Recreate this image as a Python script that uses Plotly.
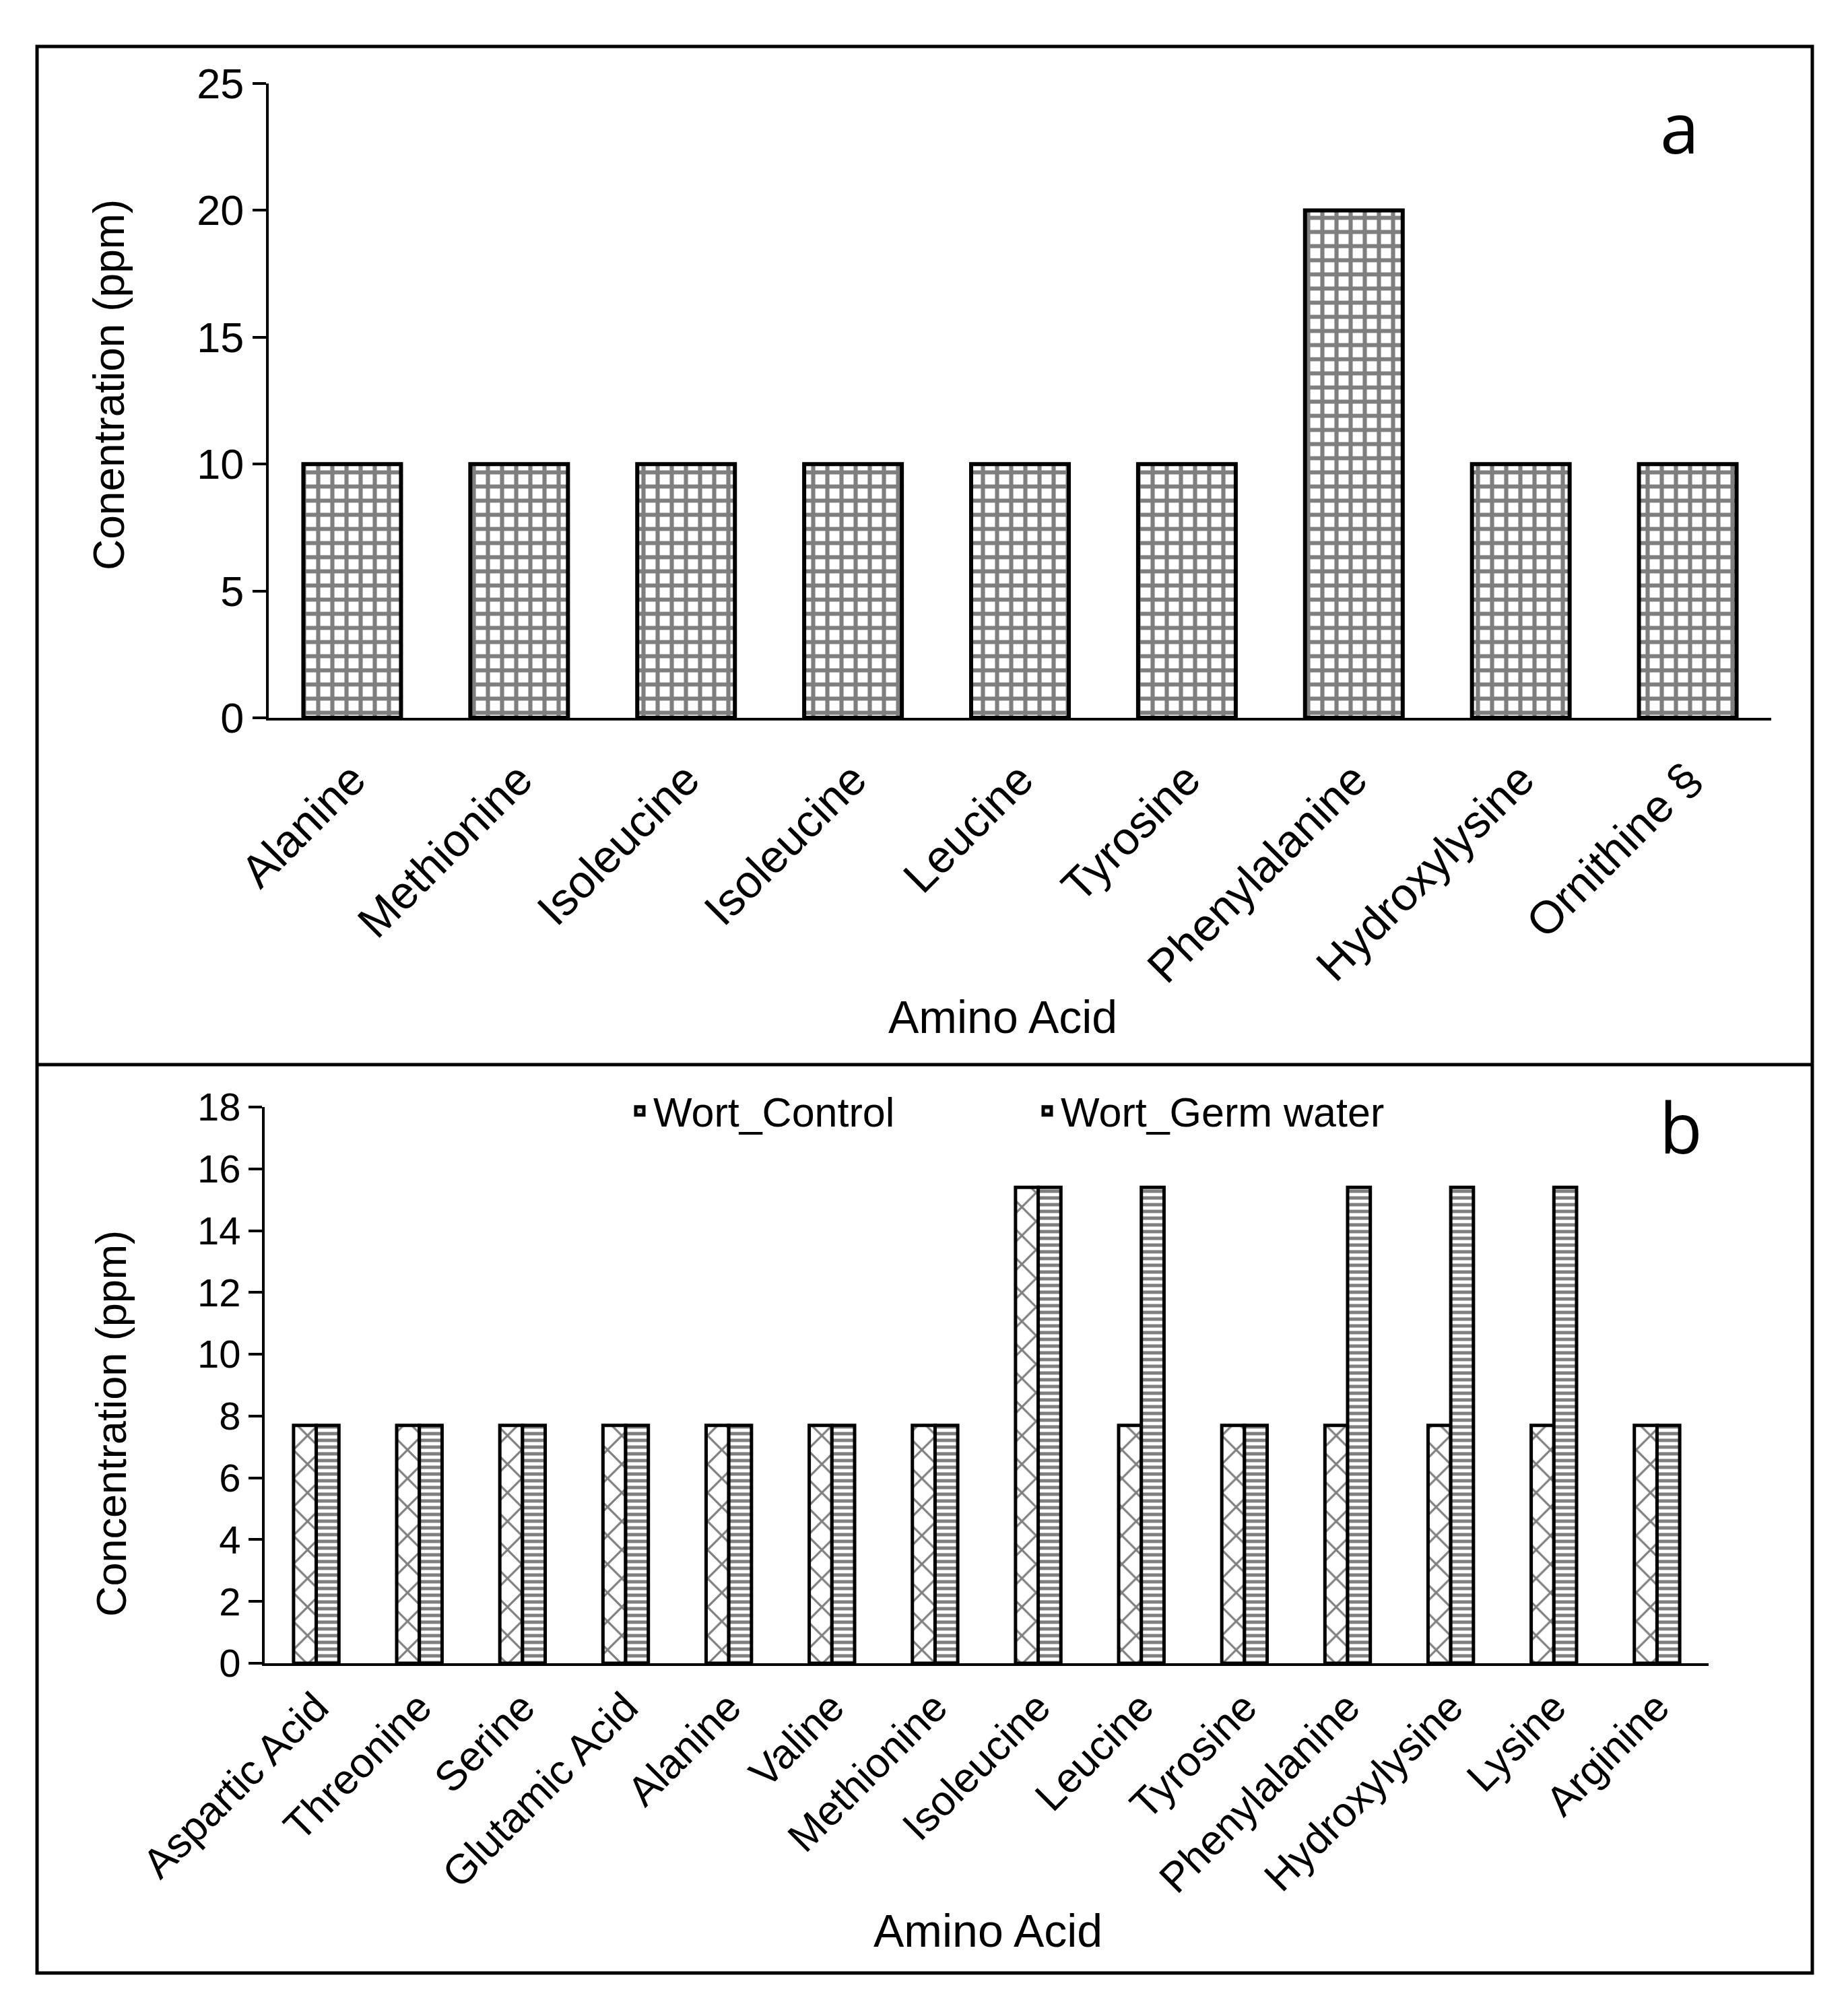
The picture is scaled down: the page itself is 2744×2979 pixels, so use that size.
import plotly.graph_objects as go

# ---------------- data ----------------
cats_a = ["Alanine", "Methionine", "Isoleucine", "Isoleucine", "Leucine",
          "Tyrosine", "Phenylalanine", "Hydroxylysine", "Ornithine §"]
vals_a = [10, 10, 10, 10, 10, 10, 20, 10, 10]
yticks_a = [0, 5, 10, 15, 20, 25]

cats_b = ["Aspartic Acid", "Threonine", "Serine", "Glutamic Acid", "Alanine",
          "Valine", "Methionine", "Isoleucine", "Leucine", "Tyrosine",
          "Phenylalanine", "Hydroxylysine", "Lysine", "Arginine"]
control_b = [7.7, 7.7, 7.7, 7.7, 7.7, 7.7, 7.7, 15.4, 7.7, 7.7, 7.7, 7.7, 7.7, 7.7]
germ_b = [7.7, 7.7, 7.7, 7.7, 7.7, 7.7, 7.7, 15.4, 15.4, 7.7, 15.4, 15.4, 15.4, 7.7]
yticks_b = [0, 2, 4, 6, 8, 10, 12, 14, 16, 18]
series_names = ["Wort_Control", "Wort_Germ water"]

W, H = 2744, 2979
OFF = 8  # page body margin
FONT = "Liberation Sans, Arial, sans-serif"

def px(x):
    return (x - OFF) / W

def py(y):
    return 1 - (y - OFF) / H

xa = list(range(len(cats_a)))
xb = list(range(len(cats_b)))

fig = go.Figure()

fig.add_trace(go.Bar(
    x=xa, y=vals_a, xaxis="x", yaxis="y", width=0.585, showlegend=False,
    marker=dict(color="white", line=dict(color="black", width=6),
                pattern=dict(shape="+", fgcolor="black", bgcolor="white",
                             size=21, solidity=0.5)),
))

fig.add_trace(go.Bar(
    x=xb, y=control_b, xaxis="x2", yaxis="y2", width=0.22, offset=-0.22,
    name=series_names[0], legend="legend",
    marker=dict(color="white", line=dict(color="black", width=5),
                pattern=dict(shape="x", fgcolor="black", bgcolor="white",
                             size=30, solidity=0.2)),
))
fig.add_trace(go.Bar(
    x=xb, y=germ_b, xaxis="x2", yaxis="y2", width=0.22, offset=0.0,
    name=series_names[1], legend="legend2",
    marker=dict(color="white", line=dict(color="black", width=5),
                pattern=dict(shape="-", fgcolor="black", bgcolor="white",
                             size=10, solidity=0.5)),
))

axis_common = dict(showline=True, linecolor="black", linewidth=4, showgrid=False,
                   zeroline=False, color="black", automargin=False)

fig.update_layout(
    width=W, height=H,
    margin=dict(l=0, r=0, t=0, b=0, autoexpand=False),
    paper_bgcolor="white", plot_bgcolor="white",
    font=dict(family=FONT, color="black"),
    barmode="group",
    xaxis=dict(domain=[px(399), px(2630)], range=[-0.5, len(cats_a) - 0.5],
               tickvals=xa, ticktext=cats_a, tickangle=-45, ticks="",
               ticklabelstandoff=20,
               tickfont=dict(size=68), anchor="y", **axis_common),
    yaxis=dict(domain=[py(1066), py(124)], range=[0, 25], tickvals=yticks_a,
               ticks="outside", ticklen=20, tickwidth=4, tickcolor="black",
               tickfont=dict(size=63), anchor="x", **axis_common),
    xaxis2=dict(domain=[px(393), px(2537)], range=[-0.5, len(cats_b) - 0.5],
                tickvals=xb, ticktext=cats_b, tickangle=-45, ticks="",
                ticklabelstandoff=0,
                tickfont=dict(size=62), anchor="y2", **axis_common),
    yaxis2=dict(domain=[py(2470), py(1644)], range=[0, 18], tickvals=yticks_b,
                ticks="outside", ticklen=20, tickwidth=4, tickcolor="black",
                tickfont=dict(size=58), anchor="x2", **axis_common),
    legend=dict(x=px(930), y=py(1650), xanchor="left", yanchor="middle",
                font=dict(size=61), bgcolor="rgba(0,0,0,0)"),
    legend2=dict(x=px(1535), y=py(1650), xanchor="left", yanchor="middle",
                 font=dict(size=61), bgcolor="rgba(0,0,0,0)"),
)

annotations = [
    dict(text="Conentration (ppm)", x=px(162), y=py(572), textangle=-90, font=dict(size=64)),
    dict(text="Amino Acid", x=px(1489), y=py(1510), font=dict(size=68)),
    dict(text="Concentration (ppm)", x=px(165), y=py(2114), textangle=-90, font=dict(size=63)),
    dict(text="Amino Acid", x=px(1467), y=py(2867), font=dict(size=68)),
    dict(text="a", x=px(2494), y=py(187), font=dict(size=104, family="Open Sans, sans-serif")),
    dict(text="b", x=px(2496), y=py(1672), font=dict(size=104, family="Open Sans, sans-serif")),
]
for a in annotations:
    a.update(xref="paper", yref="paper", showarrow=False, xanchor="center", yanchor="middle")
fig.update_layout(annotations=annotations)

fig.update_layout(shapes=[
    dict(type="rect", xref="paper", yref="paper", x0=px(55), x1=px(2691), y0=py(2930), y1=py(69),
         line=dict(color="black", width=5)),
    dict(type="line", xref="paper", yref="paper", x0=px(55), x1=px(2691), y0=py(1581), y1=py(1581),
         line=dict(color="black", width=5)),
])

fig.write_html("out.html")
